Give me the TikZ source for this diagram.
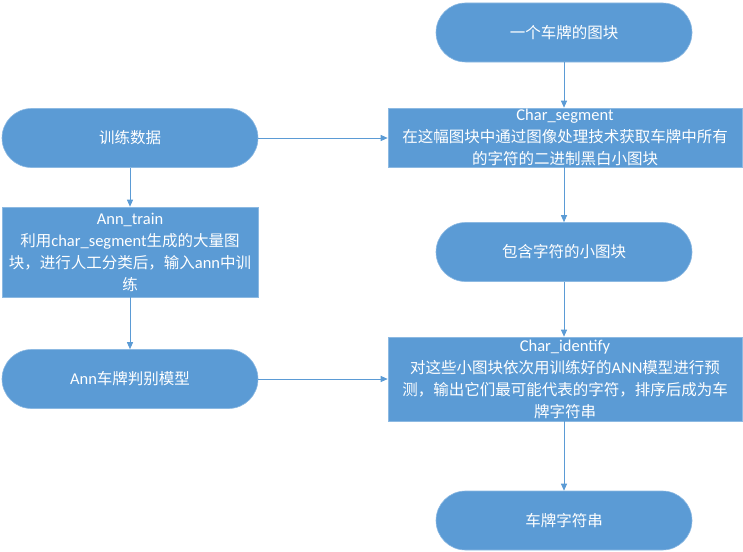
\documentclass[tikz,border=0pt]{standalone}
\usepackage{fontspec}
\setmainfont{Carlito}
\newfontfamily\cjk{Noto Sans CJK SC}
\newcommand\lat[1]{{\fontspec{Carlito}\fontsize{16.5}{22}\selectfont#1}}
\usetikzlibrary{arrows.meta}
\definecolor{boxblue}{HTML}{5B9BD5}
\begin{document}
\begin{tikzpicture}[x=1pt,y=-1pt,
  base/.style={fill=boxblue,draw=boxblue!70!white,line width=0.6pt,text=white,align=center,inner sep=0pt,
    font=\fontsize{15.5}{22}\selectfont\cjk},
  pill/.style={base,minimum width=256,minimum height=59,rounded corners=29.5},
  rbox/.style={base,minimum width=354},
  arr/.style={draw=boxblue,line width=0.9pt,-{Triangle[length=7pt,width=6pt]}}]
\useasboundingbox (0,0) rectangle (743,551);
\node[pill] (top) at (564,32.5) {一个车牌的图块};
\node[rbox,minimum height=59] (seg) at (565,137.5) {\lat{Char\_segment}\\在这幅图块中通过图像处理技术获取车牌中所有\\的字符的二进制黑白小图块};
\node[pill] (train) at (130,138) {训练数据};
\node[rbox,minimum width=256,minimum height=90] (ann) at (130,252) {\lat{Ann\_train}\\利用\lat{char\_segment}生成的大量图\\块，进行人工分类后，输入\lat{ann}中训\\练};
\node[pill] (small) at (564,252) {包含字符的小图块};
\node[pill] (model) at (130,379) {\lat{Ann}车牌判别模型};
\node[rbox,minimum height=84] (ident) at (565,379) {\lat{Char\_identify}\\对这些小图块依次用训练好的\lat{ANN}模型进行预\\测，输出它们最可能代表的字符，排序后成为车\\牌字符串};
\node[pill] (res) at (564,520.5) {车牌字符串};
\draw[arr] (top) -- (top.south |- seg.north);
\draw[arr] (train) -- (seg.west |- train);
\draw[arr] (seg.south -| small) -- (small);
\draw[arr] (train) -- (ann);
\draw[arr] (ann) -- (model);
\draw[arr] (small) -- (small |- ident.north);
\draw[arr] (model) -- (ident.west |- model);
\draw[arr] (ident.south -| res) -- (res);
\end{tikzpicture}
\end{document}
